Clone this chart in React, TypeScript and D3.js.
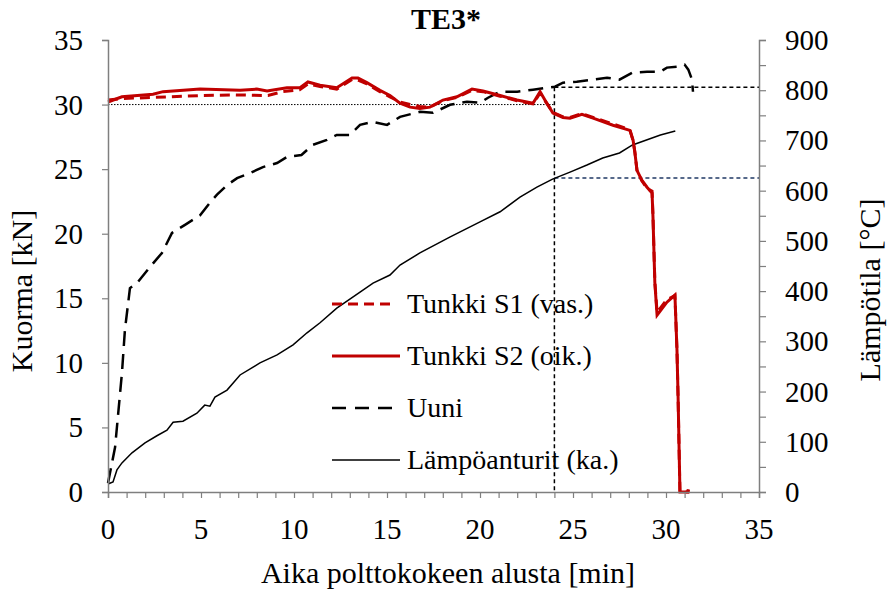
import React, { useEffect, useRef } from "react";
import * as d3 from "d3";

// Tunkki S2 (oik.) – kN
const s2Time = [0, 0.75, 2.42, 2.96, 4.95, 7.1, 8.0, 8.55, 9.62, 10.32, 10.75, 11.4, 12.3, 13.12, 13.44, 13.92, 14.62, 15.16, 15.7, 16.24, 16.77, 17.31, 18.01, 18.76, 19.57, 20.16, 21.08, 21.99, 22.85, 23.23, 23.49, 23.92, 24.46, 24.84, 25.48, 26.08, 27.15, 28.06, 28.23, 28.33, 28.44, 28.7, 28.98, 29.25, 29.3, 29.4, 29.52, 30.05, 30.48, 30.59, 30.65, 30.75, 31.18, 31.2];
const s2Load = [30.2, 30.6, 30.8, 31.0, 31.2, 31.1, 31.2, 31.05, 31.3, 31.3, 31.75, 31.5, 31.3, 32.05, 32.05, 31.7, 31.1, 30.7, 30.1, 29.8, 29.7, 29.8, 30.35, 30.6, 31.2, 31.05, 30.7, 30.35, 30.1, 31.0, 30.35, 29.35, 29.0, 28.95, 29.25, 28.95, 28.4, 28.0, 27.25, 26.25, 24.9, 24.15, 23.6, 23.15, 21.3, 16.2, 13.7, 14.7, 15.25, 11.0, 7.35, 0, 0, 0.2];

// Tunkki S1 (vas.) – kN
const s1Time = [0, 0.6, 1.4, 3.2, 5.0, 6.8, 8.6, 9.4, 10.3, 10.75, 11.4, 12.3, 13.12, 13.44, 13.92, 14.62, 15.16, 15.7, 16.24, 16.77, 17.31, 18.01, 18.76, 19.57, 20.16, 21.08, 21.99, 22.85, 23.23, 23.49, 23.92, 24.46, 24.84, 25.48, 26.08, 27.15, 28.06, 28.23, 28.33, 28.44, 28.7, 28.98, 29.25, 29.3, 29.4, 29.52, 30.05, 30.48, 30.59, 30.65, 30.75, 31.18, 31.2];
const s1Load = [30.35, 30.45, 30.5, 30.6, 30.7, 30.75, 30.7, 31.0, 31.15, 31.6, 31.4, 31.2, 31.95, 31.9, 31.6, 31.0, 30.6, 30.2, 30.0, 29.85, 29.8, 30.3, 30.55, 31.1, 31.0, 30.65, 30.3, 30.05, 30.9, 30.3, 29.4, 29.05, 29.0, 29.3, 29.0, 28.5, 28.05, 27.2, 26.3, 24.9, 24.1, 23.5, 23.3, 21.4, 16.3, 13.9, 14.9, 15.2, 11.0, 7.3, 0, 0, 0.2];

// Uuni – °C
const ovenTime = [0, 0.38, 0.75, 0.91, 1.18, 1.56, 2.26, 2.9, 3.44, 4.14, 4.95, 5.48, 5.86, 6.4, 6.94, 7.63, 8.33, 9.09, 9.62, 10.4, 11.0, 11.77, 12.3, 13.0, 13.55, 14.25, 15.0, 15.7, 16.77, 17.47, 18.39, 19.3, 20.0, 20.43, 21.08, 22.0, 22.85, 23.6, 24.03, 24.46, 25.2, 26.08, 26.83, 27.5, 28.2, 28.98, 29.7, 30.05, 30.6, 31.0, 31.2, 31.4, 31.45];
const ovenTemp = [18, 89, 237, 323, 406, 416, 448, 476, 516, 532, 551, 576, 592, 611, 625, 635, 647, 655, 667, 671, 691, 701, 711, 711, 731, 737, 731, 747, 757, 755, 771, 777, 775, 785, 797, 797, 801, 805, 807, 815, 817, 821, 825, 821, 835, 837, 837, 845, 847, 851, 841, 821, 797];

// Lämpöanturit (ka.) – °C
const sensTime = [0, 0.27, 0.48, 0.75, 1.29, 1.99, 2.63, 3.17, 3.5, 4.03, 4.78, 5.2, 5.48, 5.75, 6.4, 7.1, 8.17, 9.09, 9.95, 10.7, 11.4, 12.3, 13.55, 14.25, 15.16, 15.7, 16.77, 18.4, 20.0, 21.08, 22.15, 23.06, 23.9, 24.84, 25.75, 26.6, 27.5, 28.2, 29.7, 30.5];
const sensTemp = [16, 20, 44, 58, 78, 98, 112, 123, 139, 141, 157, 173, 171, 189, 203, 233, 257, 273, 293, 317, 337, 366, 398, 416, 432, 452, 476, 508, 538, 558, 587, 607, 623, 637, 651, 665, 675, 691, 711, 719];

// reference lines
const refTime = 24;
const refLoad = 30;
const refOven = 806;
const refSens = 625;

const xTicks = [0, 5, 10, 15, 20, 25, 30, 35];
const leftTicks = [0, 5, 10, 15, 20, 25, 30, 35];
const rightTicks = [0, 100, 200, 300, 400, 500, 600, 700, 800, 900];

const legendLabels = ["Tunkki S1 (vas.)", "Tunkki S2 (oik.)", "Uuni", "Lämpöanturit (ka.)"];

const App = () => {
  const ref = useRef(null);
  useEffect(() => {
    const width = 888;
    const height = 595;
    const margin = { top: 40, left: 108, bottom: 103, right: 129 };
    const iwidth = width - margin.left - margin.right;
    const iheight = height - margin.top - margin.bottom;
    const font = "'Liberation Serif', 'Times New Roman', serif";
    const axisColor = "#7f7f7f";

    const svg = d3.select(ref.current);
    svg.selectAll("*").remove();
    svg.attr("width", width).attr("height", height);
    svg.append("rect").attr("width", width).attr("height", height).attr("fill", "white");

    const g = svg.append("g").attr("transform", `translate(${margin.left},${margin.top})`);

    const x = d3.scaleLinear().domain([0, 35]).range([0, iwidth]);
    const yL = d3.scaleLinear().domain([0, 35]).range([iheight, 0]);
    const yR = d3.scaleLinear().domain([0, 900]).range([iheight, 0]);

    // reference lines
    g.append("line")
      .attr("x1", x(0)).attr("x2", x(refTime))
      .attr("y1", yL(refLoad)).attr("y2", yL(refLoad))
      .attr("stroke", "black").attr("stroke-width", 1).attr("stroke-dasharray", "1.5,1.5");
    g.append("line")
      .attr("x1", x(refTime)).attr("x2", x(refTime))
      .attr("y1", yR(refOven)).attr("y2", yR(0))
      .attr("stroke", "black").attr("stroke-width", 1.5).attr("stroke-dasharray", "4,3");
    g.append("line")
      .attr("x1", x(refTime)).attr("x2", x(35))
      .attr("y1", yR(refOven)).attr("y2", yR(refOven))
      .attr("stroke", "black").attr("stroke-width", 1.5).attr("stroke-dasharray", "4,3");
    g.append("line")
      .attr("x1", x(refTime)).attr("x2", x(35))
      .attr("y1", yR(refSens)).attr("y2", yR(refSens))
      .attr("stroke", "#1f3864").attr("stroke-width", 1.5).attr("stroke-dasharray", "4,3");

    const lineL = d3.line().x((d) => x(d[0])).y((d) => yL(d[1]));
    const lineR = d3.line().x((d) => x(d[0])).y((d) => yR(d[1]));

    g.append("path")
      .datum(sensTime.map((t, i) => [t, sensTemp[i]]))
      .attr("d", lineR).attr("fill", "none").attr("stroke", "black").attr("stroke-width", 1.5);
    g.append("path")
      .datum(ovenTime.map((t, i) => [t, ovenTemp[i]]))
      .attr("d", lineR).attr("fill", "none").attr("stroke", "black").attr("stroke-width", 2.5)
      .attr("stroke-dasharray", "15,8");
    g.append("path")
      .datum(s1Time.map((t, i) => [t, s1Load[i]]))
      .attr("d", lineL).attr("fill", "none").attr("stroke", "#c00000").attr("stroke-width", 3)
      .attr("stroke-dasharray", "10,6");
    g.append("path")
      .datum(s2Time.map((t, i) => [t, s2Load[i]]))
      .attr("d", lineL).attr("fill", "none").attr("stroke", "#c00000").attr("stroke-width", 3);

    // axes
    const xAxis = g.append("g").attr("transform", `translate(0,${iheight})`)
      .call(d3.axisBottom(x).tickValues(d3.range(0, 36, 1)).tickSize(6).tickFormat(""));
    const leftAxis = g.append("g").call(d3.axisLeft(yL).tickValues(leftTicks).tickSize(6).tickFormat(""));
    const rightAxis = g.append("g").attr("transform", `translate(${iwidth},0)`)
      .call(d3.axisRight(yR).tickValues(d3.range(0, 901, 50)).tickSize(7).tickFormat(""));
    [xAxis, leftAxis, rightAxis].forEach((a) => {
      a.selectAll("path").attr("stroke", axisColor).attr("stroke-width", 1.5);
      a.selectAll("line").attr("stroke", axisColor).attr("stroke-width", 1.2);
    });

    // tick labels
    g.selectAll(".xl").data(xTicks).enter().append("text")
      .attr("x", (d) => x(d)).attr("y", iheight + 47)
      .attr("text-anchor", "middle").attr("font-family", font).attr("font-size", 29)
      .text((d) => d);
    g.selectAll(".yl").data(leftTicks).enter().append("text")
      .attr("x", -25).attr("y", (d) => yL(d) + 10)
      .attr("text-anchor", "end").attr("font-family", font).attr("font-size", 29)
      .text((d) => d);
    g.selectAll(".yr").data(rightTicks).enter().append("text")
      .attr("x", iwidth + 26).attr("y", (d) => yR(d) + 10)
      .attr("text-anchor", "start").attr("font-family", font).attr("font-size", 29)
      .text((d) => d);

    // titles
    svg.append("text").attr("x", 446).attr("y", 29).attr("text-anchor", "middle")
      .attr("font-family", font).attr("font-size", 30).attr("font-weight", "bold").text("TE3*");
    svg.append("text").attr("x", 448).attr("y", 583).attr("text-anchor", "middle")
      .attr("font-family", font).attr("font-size", 30).text("Aika polttokokeen alusta [min]");
    svg.append("text").attr("transform", "translate(32,291) rotate(-90)")
      .attr("text-anchor", "middle").attr("font-family", font).attr("font-size", 30).text("Kuorma [kN]");
    svg.append("text").attr("transform", "translate(880,290) rotate(-90)")
      .attr("text-anchor", "middle").attr("font-family", font).attr("font-size", 30).text("Lämpötila [°C]");

    // legend
    const styles = [
      { stroke: "#c00000", w: 3, dash: "10,6", len: 58 },
      { stroke: "#c00000", w: 3, dash: null, len: 68 },
      { stroke: "black", w: 2.5, dash: "14,9", len: 68 },
      { stroke: "black", w: 1.5, dash: null, len: 68 },
    ];
    const leg = svg.append("g").attr("transform", "translate(332,304)");
    legendLabels.forEach((lab, i) => {
      const row = leg.append("g").attr("transform", `translate(0,${i * 52})`);
      row.append("line").attr("x1", 0).attr("x2", styles[i].len).attr("y1", 0).attr("y2", 0)
        .attr("stroke", styles[i].stroke).attr("stroke-width", styles[i].w)
        .attr("stroke-dasharray", styles[i].dash);
      row.append("text").attr("x", 75).attr("y", 9).attr("font-family", font).attr("font-size", 28)
        .text(lab);
    });
  });

  return (
    <div style={{ position: "absolute", left: 0, top: 0 }}>
      <svg ref={ref}></svg>
    </div>
  );
};

export default App;
